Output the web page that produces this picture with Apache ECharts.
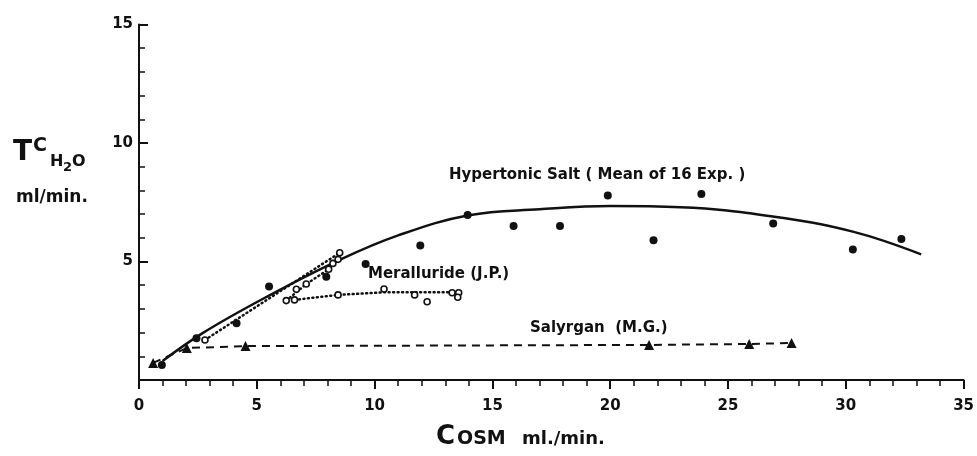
<!DOCTYPE html>
<html>
<head>
<meta charset="utf-8">
<script src="https://cdn.jsdelivr.net/npm/echarts@6/dist/echarts.min.js"></script>
<style>
  html, body { margin: 0; padding: 0; background: #fff; }
  #chart { width: 977px; height: 456px; }
</style>
</head>
<body>
<div id="chart"></div>
<script>
// values: [Cosm, TcH2O] in ml/min
const saltPoints = [
  [0.97, 0.63], [2.44, 1.76], [4.14, 2.39], [5.52, 3.94], [7.95, 4.36],
  [9.62, 4.89], [11.94, 5.67], [13.95, 6.96], [15.9, 6.5], [17.87, 6.5],
  [19.9, 7.78], [21.84, 5.9], [23.87, 7.85], [26.92, 6.6], [30.3, 5.51],
  [32.36, 5.95]
];
// hand-drawn mean curve through the salt data
const saltCurve = [
  [1.0, 0.8], [2.7, 1.98], [5.4, 3.5], [8.5, 5.06], [11, 6.1], [14, 6.95],
  [17, 7.2], [20, 7.34], [23, 7.29], [26.9, 6.9], [30.3, 6.26], [33.2, 5.3]
];
const merPoints = [
  [2.8, 1.69], [6.25, 3.35], [6.6, 3.38], [6.68, 3.83], [7.1, 4.05],
  [8.05, 4.67], [8.23, 4.92], [8.45, 5.09], [8.52, 5.37], [8.45, 3.59],
  [10.4, 3.84], [11.7, 3.59], [12.23, 3.3], [13.29, 3.68], [13.57, 3.68],
  [13.53, 3.49]
];
const merLineUpper = [[2.8, 1.69], [8.52, 5.37]];
const merLineMiddle = [[6.25, 3.35], [7.1, 4.05], [8.05, 4.67], [8.45, 5.09]];
const merLineLower = [[6.6, 3.38], [8.45, 3.59], [10.4, 3.7], [13.5, 3.7]];
const salyrgan = [
  [0.6, 0.72], [2.03, 1.35], [4.52, 1.43], [21.65, 1.48], [25.9, 1.52], [27.7, 1.56]
];
const xTicks = [0, 5, 10, 15, 20, 25, 30, 35];
const yTicks = [0, 5, 10, 15];

const FONT = "DejaVu Sans";
const chart = echarts.init(document.getElementById("chart"));

const txt = (x, y, text, size) => ({
  type: "text",
  x: x,
  y: y,
  style: {
    text: text,
    fill: "#111",
    font: "bold " + size + "px '" + FONT + "'",
    verticalAlign: "top",
  },
});

const dotted = { color: "#111", width: 2.5, type: [1, 3.5], cap: "round" };

const option = {
  animation: false,
  backgroundColor: "#fff",
  grid: { left: 139, right: 12, top: 24.5, bottom: 76 },
  xAxis: {
    type: "value",
    min: xTicks[0],
    max: xTicks[xTicks.length - 1],
    interval: 5,
    axisLine: { lineStyle: { color: "#111", width: 2 } },
    axisTick: { show: true, length: 9, lineStyle: { color: "#111", width: 2 } },
    minorTick: { show: true, splitNumber: 5, length: 6, lineStyle: { color: "#111", width: 1.5 } },
    splitLine: { show: false },
    axisLabel: { color: "#111", fontSize: 15, fontWeight: "bold", fontFamily: FONT, margin: 19 },
  },
  yAxis: {
    type: "value",
    min: yTicks[0],
    max: yTicks[yTicks.length - 1],
    interval: 5,
    axisLine: { show: true, lineStyle: { color: "#111", width: 2 } },
    axisTick: { show: true, inside: true, length: 9, lineStyle: { color: "#111", width: 2 } },
    minorTick: { show: true, splitNumber: 5, length: 6, lineStyle: { color: "#111", width: 1.5 } },
    splitLine: { show: false },
    axisLabel: {
      color: "#111", fontSize: 15, fontWeight: "bold", fontFamily: FONT, margin: 6,
      formatter: (v) => (v === 0 ? "" : v),
    },
  },
  graphic: [
    txt(13, 139, "T", 28),
    txt(33, 137, "C", 19),
    txt(50, 154, "H", 16),
    txt(63, 161, "2", 13),
    txt(72, 154, "O", 16),
    txt(16, 189, "ml/min.", 17),
    txt(436, 424, "C", 26),
    txt(457, 430, "OSM", 19),
    txt(522, 430, "ml./min.", 18),
    txt(449, 168, "Hypertonic Salt ( Mean of 16 Exp. )", 15),
    txt(368, 267, "Meralluride (J.P.)", 15),
    txt(530, 321, "Salyrgan  (M.G.)", 15),
  ],
  series: [
    {
      name: "Hypertonic Salt curve",
      type: "line",
      data: saltCurve,
      smooth: 0.4,
      showSymbol: false,
      lineStyle: { color: "#111", width: 2.5 },
      z: 2,
    },
    {
      name: "Hypertonic Salt",
      type: "scatter",
      data: saltPoints,
      symbol: "circle",
      symbolSize: 8,
      itemStyle: { color: "#111", opacity: 1 },
      z: 4,
    },
    { type: "line", data: merLineUpper, showSymbol: false, lineStyle: dotted },
    { type: "line", data: merLineMiddle, showSymbol: false, lineStyle: dotted },
    { type: "line", data: merLineLower, showSymbol: false, lineStyle: dotted },
    {
      name: "Meralluride",
      type: "scatter",
      data: merPoints,
      symbol: "circle",
      symbolSize: 6,
      itemStyle: { color: "#fff", borderColor: "#111", borderWidth: 1.6, opacity: 1 },
      z: 5,
    },
    {
      name: "Salyrgan",
      type: "line",
      data: salyrgan,
      symbol: "triangle",
      symbolSize: 10,
      showAllSymbol: true,
      itemStyle: { color: "#111" },
      lineStyle: { color: "#111", width: 2, type: [8, 6] },
      z: 3,
    },
  ],
};

chart.setOption(option);
</script>
</body>
</html>
